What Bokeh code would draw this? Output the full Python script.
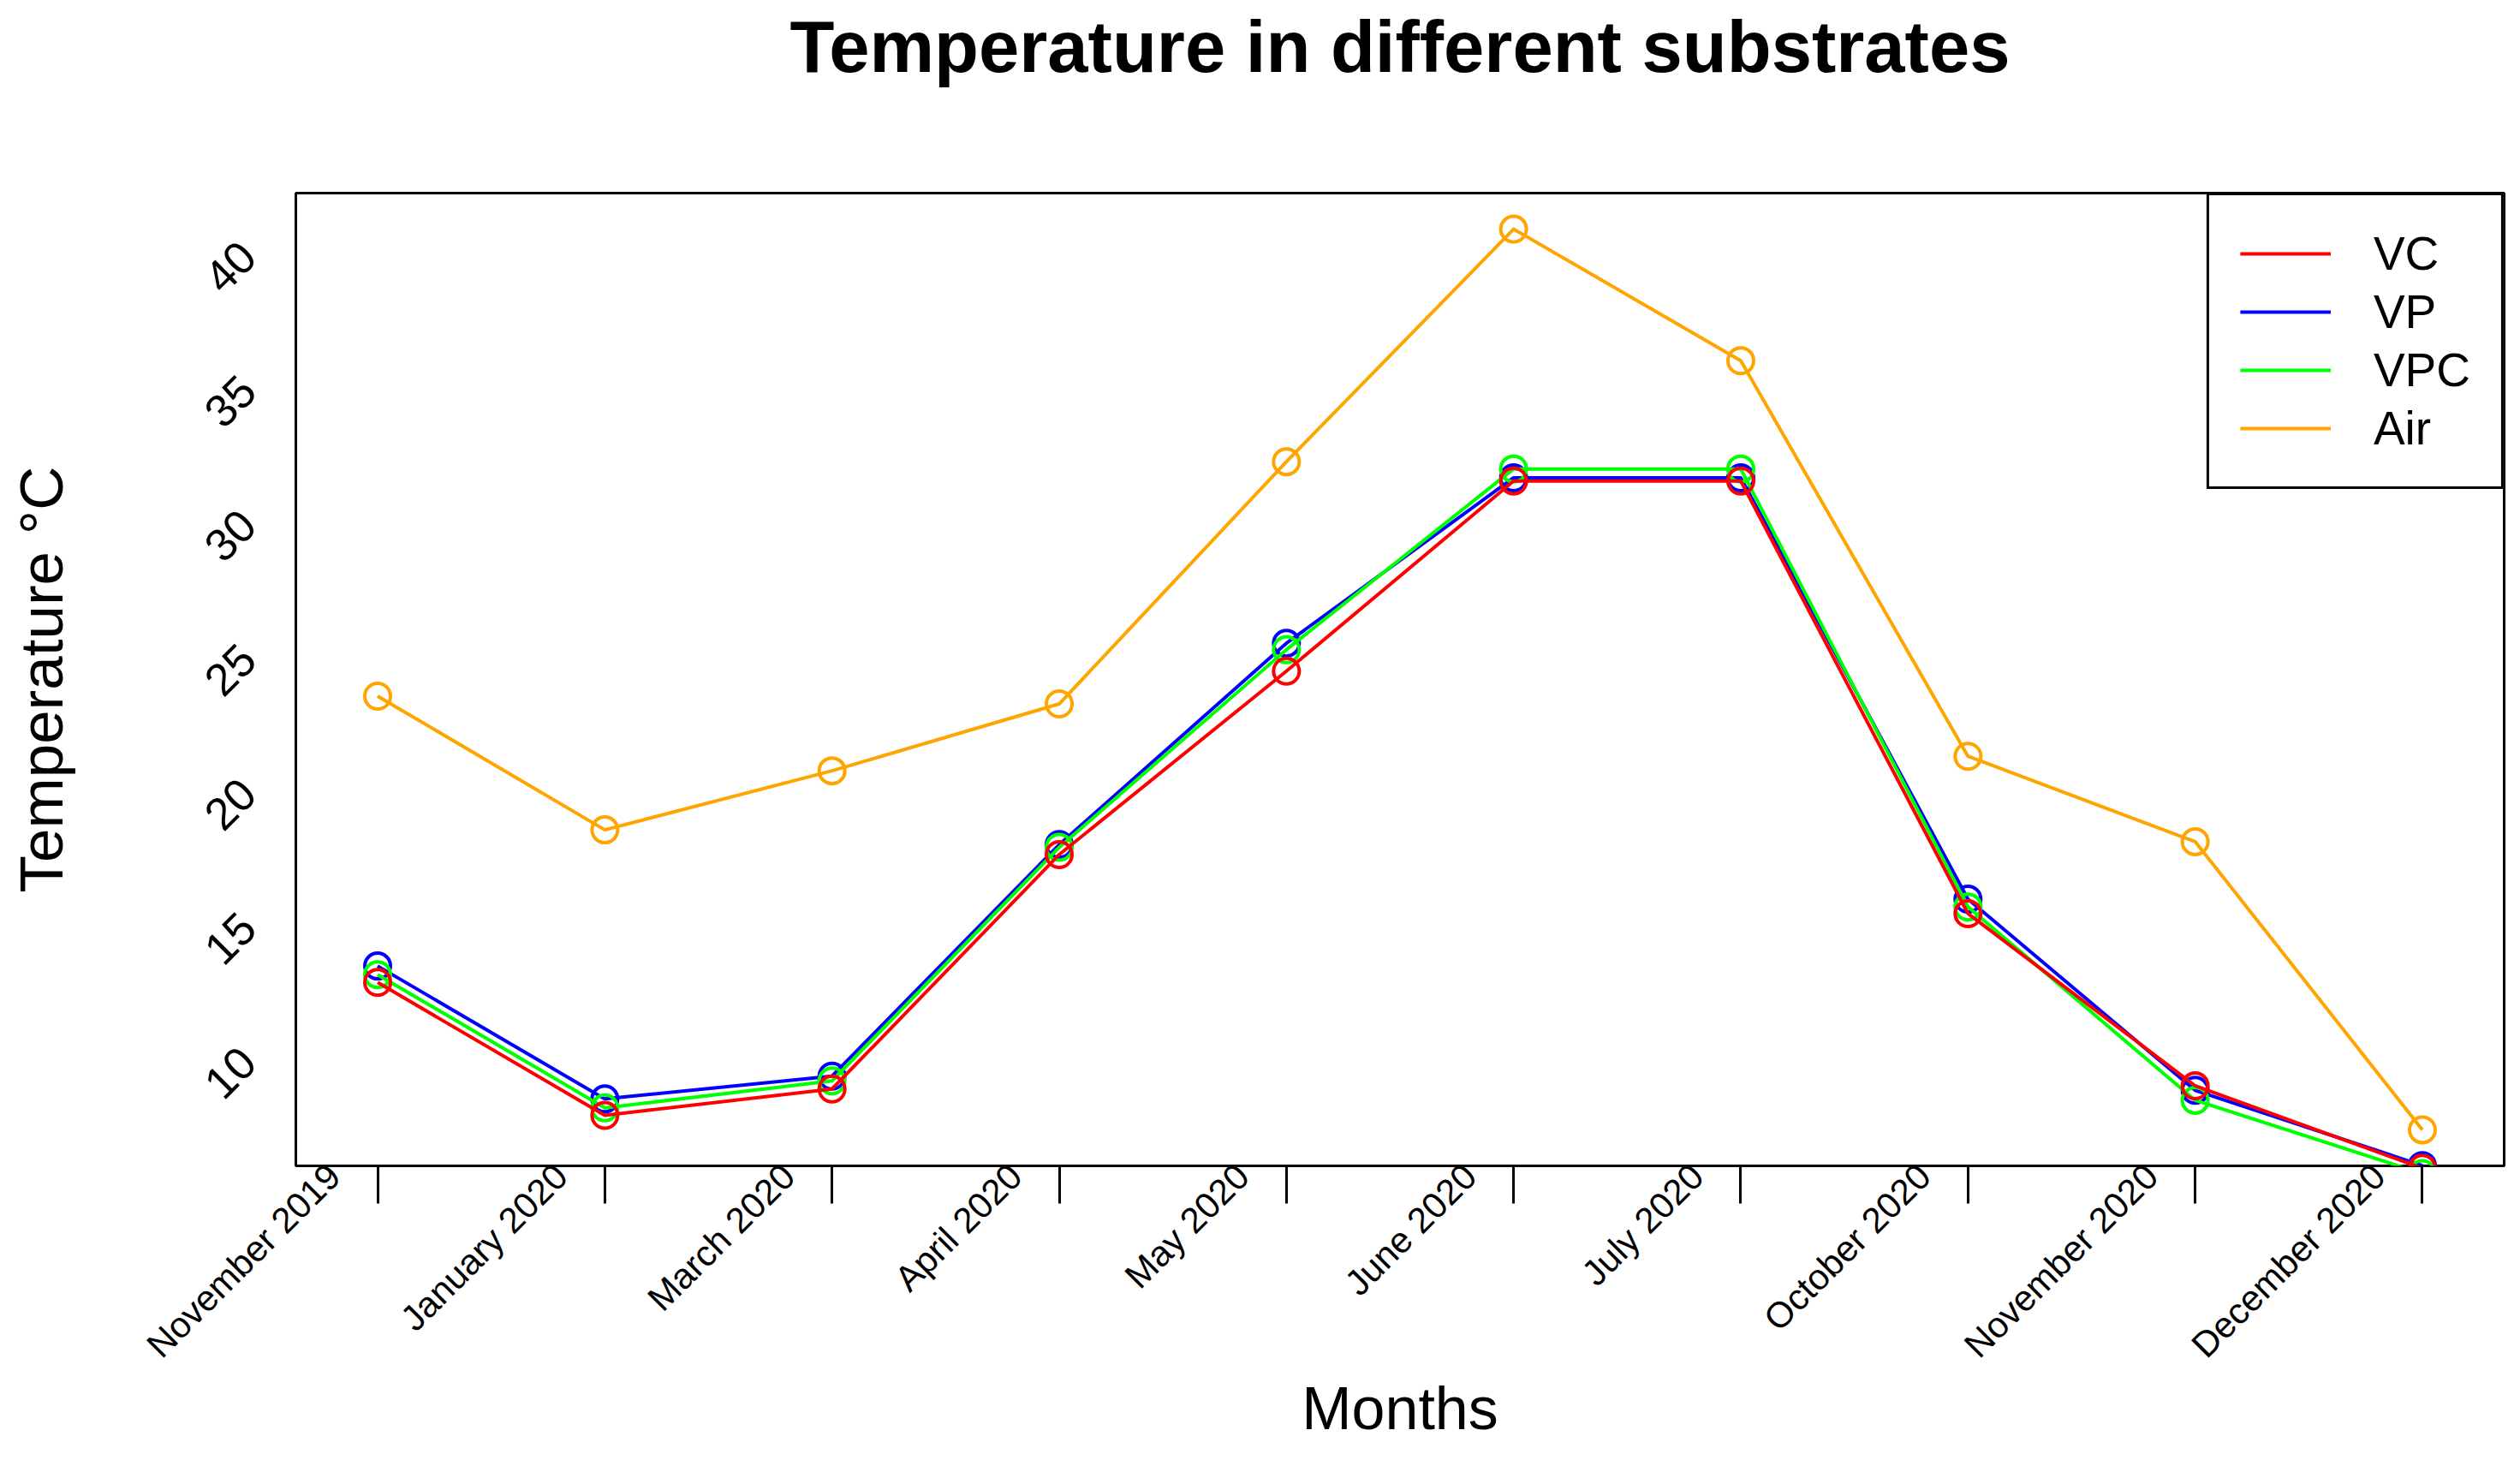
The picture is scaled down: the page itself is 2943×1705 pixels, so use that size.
from math import pi

from bokeh.embed import file_html
from bokeh.models import (CustomJSTickFormatter, FixedTicker, Legend, LegendItem,
                          Range1d, Title)
from bokeh.plotting import figure
from bokeh.resources import INLINE

# ---------------- data ----------------
months = ["November 2019", "January 2020", "March 2020", "April 2020", "May 2020",
          "June 2020", "July 2020", "October 2020", "November 2020", "December 2020"]
vc = [13.17, 8.22, 9.20, 17.93, 24.76, 31.84, 31.84, 15.73, 9.32, 6.25]
vp = [13.78, 8.83, 9.68, 18.30, 25.80, 31.96, 31.96, 16.27, 9.15, 6.35]
vpc = [13.46, 8.50, 9.50, 18.20, 25.56, 32.29, 32.29, 15.98, 8.78, 6.05]
air = [23.83, 18.85, 21.05, 23.54, 32.56, 41.22, 36.32, 21.59, 18.41, 7.68]
y_ticks = [10, 15, 20, 25, 30, 35, 40]
y_labels = [str(v) for v in y_ticks]

FONT = "Liberation Sans"

# ---------------- layout ----------------
W, H = 2927, 1689
BL, BT = 345, 225
FW, FH = 2579, 1136
BR, BB = W - BL - FW, H - BT - FH

xs = list(range(1, len(months) + 1))


def padded(lo, hi):
    d = (hi - lo) * 0.04
    return lo - d, hi + d


x0, x1 = padded(min(xs), max(xs))
y0, y1 = padded(min(air), max(air))
SX = FW / (x1 - x0)
SY = FH / (y1 - y0)

p = figure(width=W, height=H, x_range=Range1d(x0, x1), y_range=Range1d(y0, y1),
           output_backend="svg", toolbar_location=None,
           min_border_left=BL, min_border_right=BR,
           min_border_top=BT, min_border_bottom=BB)
p.grid.visible = False
p.outline_line_color = "black"
p.outline_line_width = 3
p.outline_line_alpha = 1
p.background_fill_color = "white"
p.border_fill_color = "white"

# main title (outermost panel)
p.title.text = "Temperature in different substrates"
p.title.align = "center"
p.title.vertical_align = "bottom"
p.title.standoff = 0
p.title.text_font = FONT
p.title.text_font_size = "85px"
p.title.text_font_style = "bold"
p.title.text_color = "black"

# blank spacer between the frame and the title
p.add_layout(Title(text=" ", text_font_size="10px", standoff=111), "above")

# x axis: tick marks at the months (minor ticks), labels shifted left
xa = p.xaxis[0]
xa.ticker = FixedTicker(ticks=[x - 51 / SX for x in xs], minor_ticks=xs)
xa.formatter = CustomJSTickFormatter(args=dict(labels=months), code="return labels[index];")
xa.major_tick_line_color = None
xa.major_tick_in = 0
xa.major_tick_out = 0
xa.minor_tick_in = 0
xa.minor_tick_out = 44
xa.minor_tick_line_width = 3
xa.minor_tick_line_color = "black"
xa.axis_line_color = None
xa.major_label_orientation = pi / 4
xa.major_label_standoff = -39
xa.major_label_text_font = FONT
xa.major_label_text_font_size = "42px"
xa.major_label_text_color = "black"
xa.axis_label = "Months"
xa.axis_label_text_font = FONT
xa.axis_label_text_font_size = "70px"
xa.axis_label_text_font_style = "normal"
xa.axis_label_text_color = "black"
xa.axis_label_standoff = -8

# y axis: labels only, rotated
ya = p.yaxis[0]
ya.ticker = FixedTicker(ticks=[v + 15 / SY for v in y_ticks], minor_ticks=[])
ya.formatter = CustomJSTickFormatter(args=dict(labels=y_labels), code="return labels[index];")
ya.major_tick_line_color = None
ya.minor_tick_line_color = None
ya.major_tick_in = 0
ya.major_tick_out = 0
ya.axis_line_color = None
ya.major_label_orientation = pi / 4
ya.major_label_standoff = 56
ya.major_label_text_font = FONT
ya.major_label_text_font_size = "53px"
ya.major_label_text_color = "black"
ya.axis_label = "Temperature °C"
ya.axis_label_text_font = FONT
ya.axis_label_text_font_size = "71px"
ya.axis_label_text_font_style = "normal"
ya.axis_label_text_color = "black"
ya.axis_label_standoff = 131

# ---------------- series ----------------
series = [("Air", air, "#FFA500"), ("VP", vp, "#0000FF"),
          ("VPC", vpc, "#00FF00"), ("VC", vc, "#FF0000")]
line_r = {}
for name, ys, col in series:
    lr = p.line(xs, ys, line_color=col, line_width=4, line_join="round")
    p.scatter(xs, ys, marker="circle", size=30, fill_color=None,
              line_color=col, line_width=4)
    line_r[name] = lr

legend = Legend(items=[LegendItem(label=n, renderers=[line_r[n]])
                       for n in ["VC", "VP", "VPC", "Air"]],
                location="top_right", margin=0, padding=36, spacing=4,
                glyph_width=106, glyph_height=62, label_height=62,
                label_standoff=50, label_text_font_size="55px",
                label_text_font=FONT, label_text_color="black",
                border_line_color="black", border_line_width=3, border_line_alpha=1,
                background_fill_color="white", background_fill_alpha=1)
p.add_layout(legend)

open("out.html", "w").write(file_html(p, INLINE, title="Temperature in different substrates"))
